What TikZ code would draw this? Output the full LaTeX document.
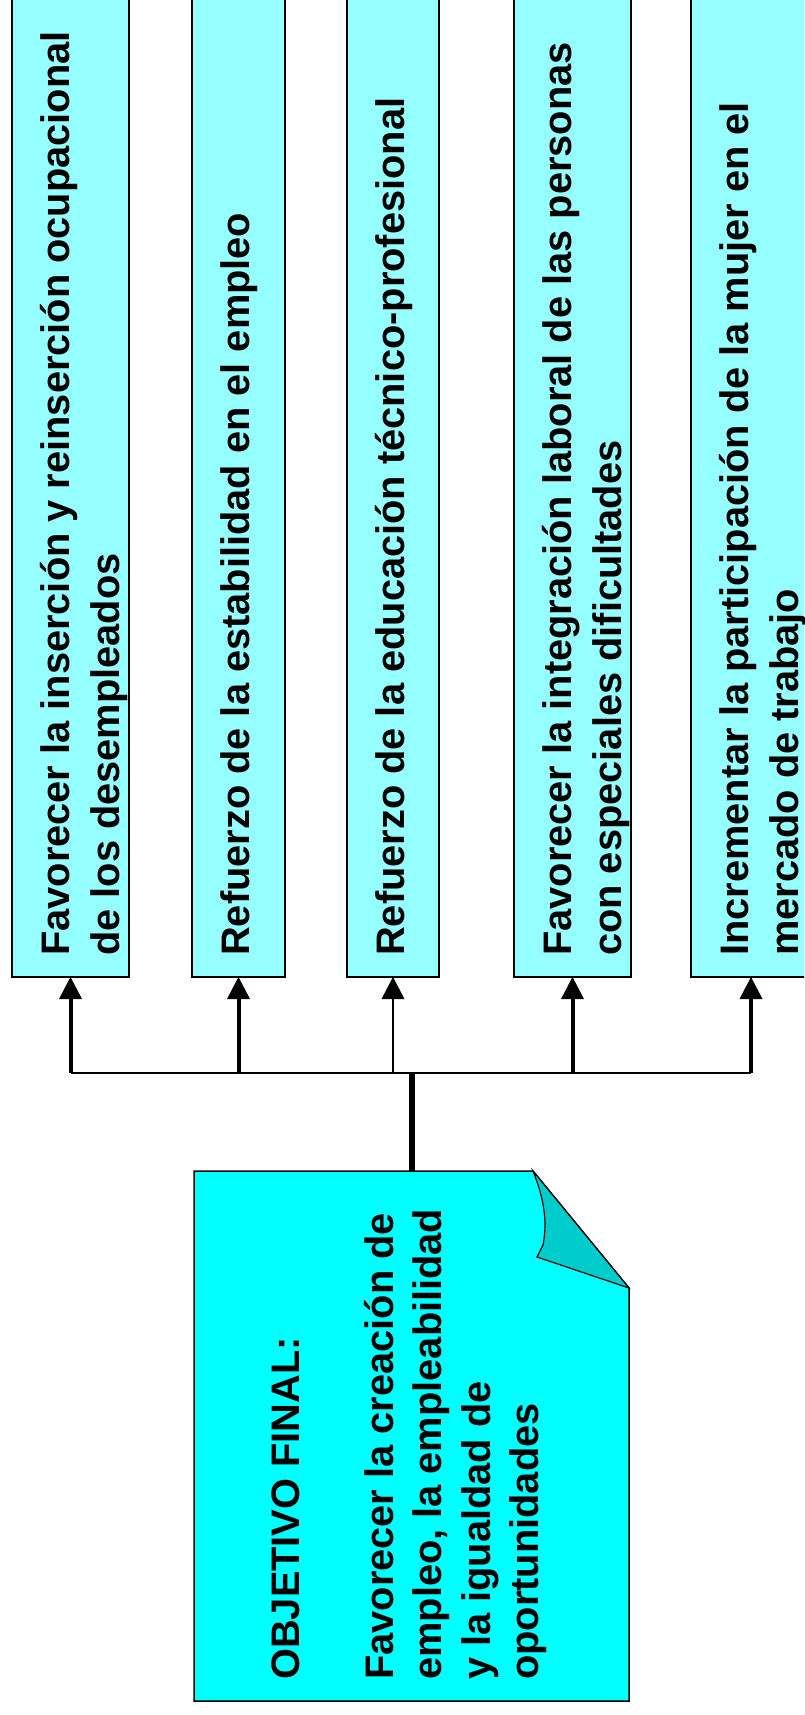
\documentclass[tikz,border=0pt]{standalone}
\usepackage{fontspec}
\setmainfont{Liberation Sans}
\usepackage{tikz}
\usetikzlibrary{arrows.meta, positioning, calc}
\definecolor{gCyan}{RGB}{150,255,255}
\definecolor{oCyan}{RGB}{0,255,255}
\definecolor{oFold}{RGB}{0,204,204}

\begin{document}
\begin{tikzpicture}[x=1pt, y=-1pt,
  goalbox/.style={draw, line width=1.5pt, fill=gCyan, inner sep=0pt, outer sep=0pt,
    minimum height=1000pt, anchor=south west},
  goaltext/.style={rotate=90, anchor=north west, align=left, inner sep=0pt,
    font=\bfseries\fontsize{39.8}{50}\selectfont},
  objshape/.style={inner sep=0pt, outer sep=0pt, minimum width=435pt,
    minimum height=530pt, anchor=south west},
  branch/.style={-{Triangle[width=23pt, length=22pt, line width=0pt]}},
  rail/.style={line width=2pt},
  trunk/.style={line width=6pt}]
  % page — boxes run off the top and right edge
  \useasboundingbox (0,0) rectangle (804,1715);
  \clip (0,0) rectangle (804,1715);

  % goal boxes — left edge / width / text
  \foreach \i/\xl/\w/\txt in {
    1/12/117/{Favorecer la inserción y reinserción ocupacional\\de los desempleados},
    2/192/93/{Refuerzo de la estabilidad en el empleo},
    3/347/92/{Refuerzo de la educación técnico-profesional},
    4/514/117/{Favorecer la integración laboral de las personas\\con especiales dificultades},
    5/691/120/{Incrementar la participación de la mujer en el\\mercado de trabajo}} {
    \node[goalbox, minimum width=\w pt] (g\i) at (\xl,977) {};
    \node[goaltext] (t\i) at ([shift={(28,-21)}]g\i.south west) {\txt};
  }

  % final objective (dog-eared sheet)
  \node[objshape] (obj) at (194,1701) {};
  \filldraw[fill=oCyan, line width=1.5pt] (obj.south west) -- (obj.north west)
    -- ([shift={(-96,0)}]obj.north east) -- ([shift={(0,117)}]obj.north east)
    -- (obj.south east) -- cycle;
  \filldraw[fill=oFold, line width=1.2pt] ([shift={(-96,0)}]obj.north east)
    .. controls +(10,25) and +(5,-25) .. ([shift={(-86,74)}]obj.north east)
    -- ([shift={(-92,86)}]obj.north east) -- ([shift={(0,117)}]obj.north east) -- cycle;
  \node[goaltext, font=\bfseries\fontsize{39.8}{48.5}\selectfont] (objtxt)
    at ([shift={(78,-21)}]obj.south west)
    {OBJETIVO FINAL:\\[45pt]Favorecer la creación de\\empleo, la empleabilidad\\y la igualdad de\\oportunidades};

  % connectors
  \path (obj.north) ++(0,-98) coordinate (hub);
  \draw[trunk] (hub) -- (obj.north);
  \draw[rail] (hub -| g1.south) -- (hub -| g5.south);
  \foreach \i/\lw in {1/4, 2/4, 3/1.5, 4/4, 5/4}
    \draw[branch, line width=\lw pt] (hub -| g\i.south) -- (g\i.south);
\end{tikzpicture}
\end{document}
